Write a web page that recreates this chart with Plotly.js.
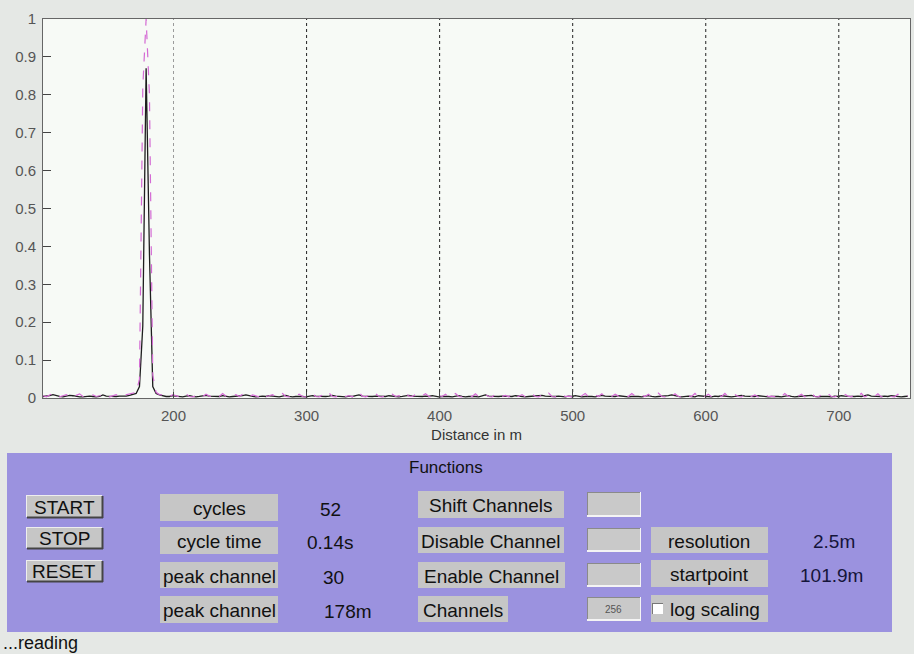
<!DOCTYPE html>
<html>
<head>
<meta charset="utf-8">
<script src="https://cdn.plot.ly/plotly-3.0.1.min.js"></script>
<style>
html,body{margin:0;padding:0;background:#e5e8e5;}
#chart{width:914px;height:654px;}
</style>
</head>
<body>
<div id="chart"></div>
<script>
// ---- data ----
var startpoint = 101.9;   // m
var resolution = 2.5;     // m per channel
var currentTrace = [
0.004,0.005,0.006,0.009,0.006,0.004,0.003,0.004,0.007,0.006,0.004,0.003,0.003,0.004,0.005,0.004,0.003,0.004,0.008,0.005,
0.004,0.003,0.004,0.005,0.004,0.005,0.007,0.009,0.012,0.03,0.19,0.87,0.38,0.03,0.012,0.008,0.005,0.004,0.004,0.006,
0.005,0.004,0.003,0.005,0.006,0.004,0.003,0.004,0.005,0.007,0.005,0.004,0.003,0.004,0.006,0.005,0.003,0.004,0.005,0.004,
0.006,0.008,0.005,0.004,0.003,0.004,0.005,0.004,0.006,0.005,0.004,0.003,0.005,0.007,0.004,0.003,0.004,0.005,0.004,0.003,
0.004,0.006,0.005,0.004,0.003,0.004,0.005,0.007,0.005,0.004,0.004,0.003,0.005,0.004,0.006,0.008,0.005,0.004,0.003,0.004,
0.005,0.004,0.003,0.004,0.006,0.005,0.004,0.003,0.004,0.005,0.007,0.005,0.004,0.003,0.004,0.005,0.004,0.006,0.004,0.003,
0.004,0.005,0.004,0.003,0.005,0.006,0.004,0.003,0.004,0.005,0.004,0.003,0.006,0.008,0.005,0.004,0.003,0.004,0.005,0.004,
0.003,0.004,0.006,0.005,0.004,0.003,0.004,0.005,0.004,0.006,0.007,0.005,0.004,0.003,0.004,0.005,0.004,0.003,0.005,0.004,
0.006,0.004,0.003,0.004,0.005,0.004,0.003,0.005,0.007,0.005,0.004,0.003,0.004,0.006,0.005,0.004,0.003,0.004,0.005,0.004,
0.003,0.005,0.006,0.004,0.003,0.004,0.005,0.004,0.006,0.008,0.005,0.004,0.003,0.004,0.005,0.004,0.003,0.006,0.005,0.004,
0.004,0.003,0.005,0.004,0.006,0.005,0.004,0.003,0.004,0.005,0.007,0.005,0.004,0.003,0.004,0.006,0.005,0.004,0.003,0.004,
0.005,0.004,0.003,0.005,0.006,0.004,0.003,0.004,0.005,0.004,0.006,0.007,0.004,0.003,0.004,0.005,0.004,0.003,0.005,0.004,
0.006,0.005,0.004,0.003,0.004,0.005,0.004,0.006,0.008,0.005,0.004,0.003,0.004,0.005,0.004,0.006,0.005,0.004,0.003,0.004,
0.005];
var maxTrace = [
0.006,0.003,0.008,0.012,0.005,0.003,0.006,0.009,0.004,0.003,0.007,0.011,0.004,0.003,0.005,0.008,0.004,0.006,0.010,0.004,
0.003,0.005,0.009,0.004,0.006,0.008,0.010,0.012,0.015,0.05,0.82,1.0,0.8,0.06,0.015,0.009,0.008,0.004,0.003,0.009,
0.005,0.003,0.007,0.011,0.004,0.003,0.006,0.009,0.004,0.010,0.005,0.003,0.007,0.004,0.012,0.005,0.003,0.006,0.009,0.004,
0.010,0.004,0.003,0.008,0.005,0.003,0.011,0.004,0.006,0.009,0.003,0.005,0.012,0.004,0.003,0.007,0.005,0.010,0.004,0.003,
0.006,0.011,0.004,0.003,0.008,0.005,0.013,0.004,0.003,0.007,0.010,0.004,0.006,0.003,0.009,0.015,0.005,0.003,0.007,0.004,
0.011,0.004,0.003,0.008,0.005,0.010,0.004,0.006,0.003,0.012,0.005,0.004,0.009,0.003,0.006,0.011,0.004,0.003,0.008,0.005,
0.004,0.010,0.003,0.006,0.012,0.004,0.003,0.008,0.005,0.004,0.011,0.003,0.006,0.009,0.004,0.003,0.010,0.005,0.004,0.007,
0.003,0.012,0.005,0.004,0.009,0.003,0.006,0.011,0.004,0.003,0.008,0.005,0.013,0.004,0.003,0.007,0.010,0.004,0.005,0.003,
0.009,0.004,0.006,0.012,0.003,0.005,0.008,0.004,0.011,0.003,0.006,0.004,0.010,0.005,0.003,0.008,0.004,0.012,0.005,0.003,
0.007,0.004,0.010,0.003,0.006,0.013,0.004,0.003,0.008,0.005,0.011,0.004,0.003,0.009,0.005,0.004,0.012,0.003,0.006,0.004,
0.010,0.003,0.005,0.008,0.004,0.012,0.003,0.006,0.009,0.004,0.003,0.011,0.005,0.004,0.008,0.003,0.006,0.010,0.004,0.005,
0.003,0.009,0.004,0.012,0.005,0.003,0.007,0.004,0.010,0.003,0.006,0.013,0.004,0.003,0.008,0.005,0.011,0.004,0.003,0.007,
0.004,0.010,0.005,0.003,0.009,0.004,0.012,0.003,0.006,0.008,0.004,0.011,0.003,0.005,0.009,0.004,0.003,0.010,0.005,0.004,
0.006];
var xTickVals = [200, 300, 400, 500, 600, 700];
var xTickText = ["200", "300", "400", "500", "600", "700"];
var yTickVals = [0, 0.1, 0.2, 0.3, 0.4, 0.5, 0.6, 0.7, 0.8, 0.9, 1];
var yTickText = ["0", "0.1", "0.2", "0.3", "0.4", "0.5", "0.6", "0.7", "0.8", "0.9", "1"];
var darkGridAt = [300, 400, 500, 600, 700];
var lightGridAt = [200];
var xRange = [101.9, 753.5];

// panel texts
var statusText = "...reading";
var panelTitle = "Functions";
var buttonLabels = ["START", "STOP", "RESET"];
var infoLabels = ["cycles", "cycle time", "peak channel", "peak channel"];
var infoValues = ["52", "0.14s", "30", "178m"];
var funcLabels = ["Shift Channels", "Disable Channel", "Enable Channel", "Channels"];
var editValues = ["", "", "", "256"];
var settingLabels = ["resolution", "startpoint"];
var settingValues = ["2.5m", "101.9m"];
var checkLabel = "log scaling";

// distances from channel geometry
var dist = currentTrace.map(function (_, i) { return +(startpoint + i * resolution).toFixed(2); });

// ---- layout helpers (pixel -> paper) ----
var L = 43, R = 910, T = 19, B = 398;
function px(x) { return (x - L) / (R - L); }
function py(y) { return (B - y) / (B - T); }
var FONT = "Liberation Sans, Arial, Helvetica, sans-serif";
var shapes = [];
var ann = [];
function rect(x0, y0, x1, y1, fill, lineColor, lw) {
  shapes.push({type: "rect", xref: "paper", yref: "paper", x0: px(x0), x1: px(x1), y0: py(y1), y1: py(y0),
    fillcolor: fill, line: {color: lineColor || fill, width: lw || 0}, layer: "above"});
}
function hline(x0, x1, y, color, w) {
  shapes.push({type: "line", xref: "paper", yref: "paper", x0: px(x0), x1: px(x1), y0: py(y), y1: py(y),
    line: {color: color, width: w || 1}, layer: "above"});
}
function vline(x, y0, y1, color, w) {
  shapes.push({type: "line", xref: "paper", yref: "paper", x0: px(x), x1: px(x), y0: py(y0), y1: py(y1),
    line: {color: color, width: w || 1}, layer: "above"});
}
function text(t, x, y, size, color, anchor) {
  ann.push({text: t, xref: "paper", yref: "paper", x: px(x), y: py(y), xanchor: anchor || "center", yanchor: "middle",
    showarrow: false, font: {family: FONT, size: size, color: color || "#111"}});
}

// grid lines from named arrays
darkGridAt.forEach(function (v) {
  shapes.push({type: "line", xref: "x", yref: "paper", x0: v, x1: v, y0: 0, y1: 1,
    line: {color: "#222", width: 1, dash: "dot"}, layer: "below"});
});
lightGridAt.forEach(function (v) {
  shapes.push({type: "line", xref: "x", yref: "paper", x0: v, x1: v, y0: 0, y1: 1,
    line: {color: "#9a9a9a", width: 1, dash: "dot"}, layer: "below"});
});

// purple panel
var GREY = "#c6c6c6";
rect(7, 453, 892, 632, "#9b92df");
text(panelTitle, 446, 467, 17, "#111");

// buttons
var btnY = [[495, 517], [527, 548], [560, 581]];
buttonLabels.forEach(function (lab, i) {
  var y0 = btnY[i][0], y1 = btnY[i][1];
  rect(26, y0, 102, y1, GREY);
  hline(26, 102, y0 + 0.5, "#eeeeee", 1);
  vline(26.5, y0, y1, "#eeeeee", 1);
  hline(27, 103, y1 + 0.5, "#444", 2);
  vline(102.5, y0 + 1, y1 + 1, "#444", 2);
  text(lab, 64, (y0 + y1) / 2 + 1, 19, "#111");
});

// info labels + values
var infoY = [[494, 521], [527, 554], [562, 588], [596, 623]];
var valX = [330, 330, 333, 348];
infoLabels.forEach(function (lab, i) {
  var y0 = infoY[i][0], y1 = infoY[i][1];
  rect(160, y0, 278, y1, GREY);
  text(lab, 219, (y0 + y1) / 2 + 1, 19, "#111");
  text(infoValues[i], valX[i], (y0 + y1) / 2 + 2, 19, "#111");
});

// function labels + edit boxes
var funcY = [[491, 518], [527, 553], [562, 588], [596, 622]];
var funcX1 = [564, 564, 565, 508];
funcLabels.forEach(function (lab, i) {
  var y0 = funcY[i][0], y1 = funcY[i][1];
  rect(418, y0, funcX1[i], y1, GREY);
  text(lab, (421 + funcX1[i] - 3) / 2, (y0 + y1) / 2 + 1, 19, "#111");
  var ey0 = y0 + 1, ey1 = y1 - 3;
  rect(587, ey0, 640, ey1, "#c9c9c9");
  hline(587, 640, ey0 + 0.5, "#8a8a8a", 1);
  vline(587.5, ey0, ey1, "#8a8a8a", 1);
  hline(587, 641, ey1 + 1, "#f4f4f4", 2);
  vline(640.5, ey0, ey1 + 1, "#f4f4f4", 1);
  if (editValues[i]) text(editValues[i], 613, (ey0 + ey1) / 2 + 1, 10, "#555");
});

// settings
var setY = [[527, 553], [560, 587]];
settingLabels.forEach(function (lab, i) {
  var y0 = setY[i][0], y1 = setY[i][1];
  rect(651, y0, 768, y1, GREY);
  text(lab, 709, (y0 + y1) / 2 + 1, 19, "#111");
});
text(settingValues[0], 834, 541, 19, "#15153a");
text(settingValues[1], 831, 575, 19, "#15153a");
rect(651, 595, 768, 622, GREY);
rect(652, 603, 663, 614, "#ffffff");
hline(652, 663, 603.5, "#777", 1);
vline(652.5, 603, 614, "#777", 1);
text(checkLabel, 715, 609, 19, "#111");

// status line
text(statusText, 1, 643, 18, "#111", "left");

var traces = [
  {x: dist, y: currentTrace, type: "scatter", mode: "lines", line: {color: "#1e1e1e", width: 1.3}, hoverinfo: "skip"},
  {x: dist, y: maxTrace, type: "scatter", mode: "lines", line: {color: "#d46ad4", width: 1.2, dash: "dash"}, hoverinfo: "skip"}
];

var layout = {
  width: 914, height: 654,
  margin: {l: L, r: 914 - R, t: T, b: 654 - B, pad: 0},
  paper_bgcolor: "#e5e8e5",
  plot_bgcolor: "#f7faf6",
  showlegend: false,
  font: {family: FONT, color: "#555"},
  xaxis: {
    range: xRange, tickmode: "array", tickvals: xTickVals, ticktext: xTickText,
    ticks: "inside", ticklen: 6, tickcolor: "#444", showgrid: false, zeroline: false,
    showline: true, linecolor: "#666", linewidth: 1, mirror: true,
    tickfont: {size: 15, color: "#555", family: FONT}, ticklabelstandoff: 4,
    title: {text: "Distance in m", font: {size: 15, color: "#333", family: FONT}, standoff: 6}
  },
  yaxis: {
    range: [0, 1], tickmode: "array", tickvals: yTickVals, ticktext: yTickText,
    ticks: "inside", ticklen: 8, tickcolor: "#444", showgrid: false, zeroline: false,
    showline: true, linecolor: "#666", linewidth: 1, mirror: true,
    tickfont: {size: 15, color: "#555", family: FONT}, ticklabelstandoff: 3
  },
  shapes: shapes,
  annotations: ann
};

Plotly.newPlot("chart", traces, layout, {displayModeBar: false, staticPlot: true});
</script>
</body>
</html>
